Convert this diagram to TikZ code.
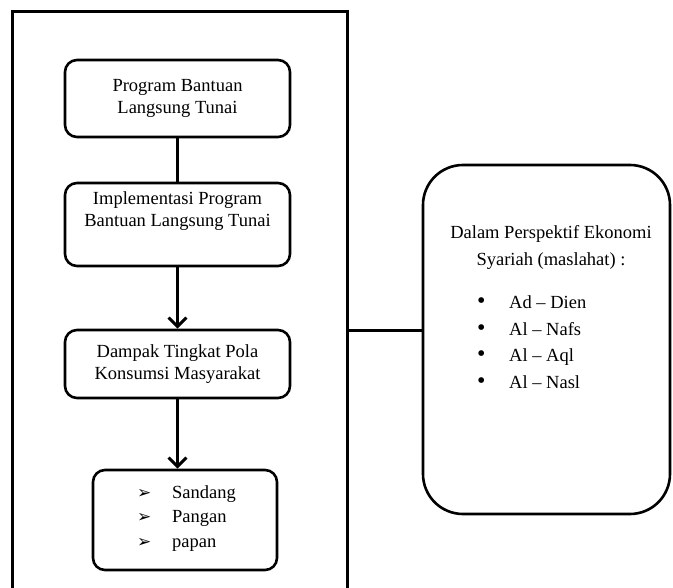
\documentclass[tikz,border=0pt]{standalone}
\usepackage{fontspec}
\setmainfont{Liberation Serif}
\newfontfamily\dv{DejaVu Sans}
\usetikzlibrary{arrows.meta}
\tikzset{
  flowbox/.style={draw=black, line width=2.6pt, rounded corners=12pt, fill=white,
    minimum width=225pt, align=center, inner sep=0pt,
    font=\fontsize{18.5}{22}\selectfont},
  conn/.style={line width=3pt},
  arr/.style={line width=3pt, -{Straight Barb[length=9pt,width=18pt]}},
  txt/.style={inner sep=0pt}
}
\newcommand{\arrbul}{{\dv\fontsize{17}{17}\selectfont ➢}}
\newcommand{\dotbul}{{\fontsize{24}{24}\selectfont •}}
\begin{document}
\begin{tikzpicture}[x=1pt,y=-1pt]
\useasboundingbox (0,0) rectangle (673,588);
\clip (0,0) rectangle (673,588);
% outer frame (open at bottom, cut by the picture edge)
\coordinate (fbl) at (12,600);
\coordinate (ftl) at (12,12);
\coordinate (ftr) at (347,12);
\coordinate (fbr) at (347,600);
\draw[line width=3pt] (fbl) -- (ftl) -- (ftr) -- (fbr);

\node[flowbox, minimum height=77pt] (b1) at (177.5,98.5)
  {Program Bantuan\\Langsung Tunai};
\node[flowbox, minimum height=83pt] (b2) at (177.5,224.5)
  {Implementasi Program\\Bantuan Langsung Tunai\\[8pt]};
\node[flowbox, minimum height=68pt] (b3) at (177.5,364)
  {Dampak Tingkat Pola\\Konsumsi Masyarakat};
\node[flowbox, minimum width=184pt, minimum height=100pt] (b4) at (185,520) {};
\node[txt, anchor=west, font=\fontsize{18.5}{24.5}\selectfont] (b4list) at (137,518)
  {\begin{tabular}{@{}p{35pt}@{}l@{}}
   \arrbul & Sandang\\
   \arrbul & Pangan\\
   \arrbul & papan
   \end{tabular}};

\draw[conn] (b1) -- (b2);
\draw[arr] (b2) -- (b3);
\draw[arr] (b3.south) -- (b3.south |- b4.north);

% right box
\node[draw=black, line width=2.6pt, rounded corners=40pt, minimum width=247pt,
  minimum height=349pt, inner sep=0pt] (r) at (546.5,339.5) {};
\coordinate (fr) at (347,331);
\draw[conn] (fr) -- (fr -| r.west);

\node[txt, align=center, font=\fontsize{18.5}{27}\selectfont] (rhead) at (551,247.5)
  {Dalam Perspektif Ekonomi\\Syariah (maslahat) :};
\node[txt, anchor=west, font=\fontsize{18.5}{26.5}\selectfont] (rlist) at (477,343)
  {\begin{tabular}{@{}p{32pt}@{}l@{}}
   \dotbul & Ad – Dien\\
   \dotbul & Al – Nafs\\
   \dotbul & Al – Aql\\
   \dotbul & Al – Nasl
   \end{tabular}};
\end{tikzpicture}
\end{document}
